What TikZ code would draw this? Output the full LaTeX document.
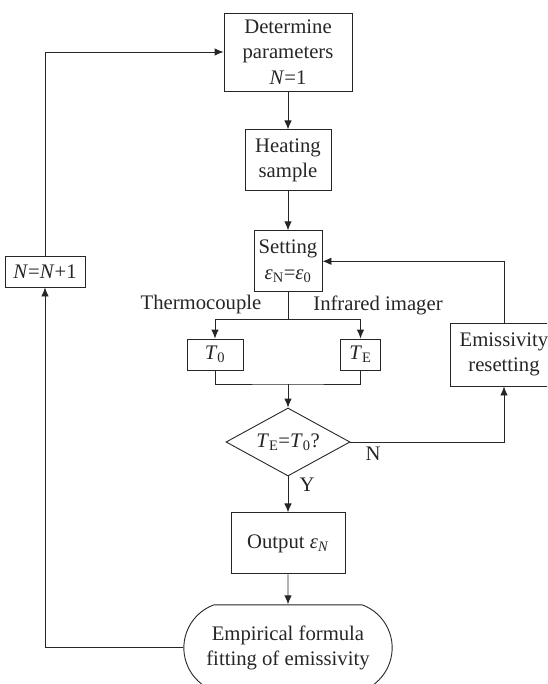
\documentclass[tikz,border=0pt]{standalone}
\usepackage{fontspec}
\setmainfont{Liberation Serif}
\usepackage{xcolor}
\usepackage{tikz}
\usetikzlibrary{shapes.geometric,shapes.misc,arrows.meta,positioning}

\begin{document}
\begin{tikzpicture}[x=1pt, y=-1pt, node distance=36pt,
    every node/.style={font=\fontsize{20.7}{25.5}\selectfont, text=black!85},
    box/.style={draw=black!85, line width=0.9pt, rectangle, align=center, inner sep=2pt},
    check/.style={draw=black!85, line width=0.9pt, diamond, aspect=1.8, inner sep=0pt, minimum width=124pt, minimum height=68pt},
    fitbox/.style={draw=black!85, line width=0.9pt, rounded rectangle, rounded rectangle arc length=140, align=center, minimum width=215pt, minimum height=86pt},
    link/.style={draw=black!85, line width=0.9pt},
    >={Latex[length=9pt,width=7.5pt]}]
    \useasboundingbox (0,0) rectangle (547,684);
    \clip (0,0) rectangle (547,684);

    % Nodes
    \node[box, minimum width=128pt, minimum height=78pt] (param) at (288,52) {Determine\\parameters\\\textit{N}=1};
    \node[box, minimum width=86pt, minimum height=61pt, below=38pt of param] (heat) {Heating\\sample};
    \node[box, minimum width=68pt, minimum height=61pt, below=39pt of heat] (set) {Setting\\\textit{ε}\textsubscript{N}=\textit{ε}\textsubscript{0}};
    \node[box, minimum width=56pt, minimum height=31pt] (tzero) at (215,354.5) {\textit{T}\textsubscript{0}};
    \node[box, minimum width=40pt, minimum height=31pt] (tinfra) at (360.5,354.5) {\textit{T}\textsubscript{E}};
    \node (thermo) at (201,305) {Thermocouple};
    \node (infra) at (378,305) {Infrared imager};
    \node[check] (dec) at (288,442) {\textit{T}\textsubscript{E}=\textit{T}\textsubscript{0}?};
    \node[box, minimum width=108pt, minimum height=63pt] (reset) at (504,354.5) {Emissivity\\resetting};
    \node (no) at (373,454) {N};
    \node (yes) at (307,485) {Y};
    \node[box, minimum width=114pt, minimum height=61pt, below=36pt of dec] (out) {Output \textit{ε}\textsubscript{\textit{N}}};
    \node[fitbox, below=30pt of out] (emp) {Empirical formula\\fitting of emissivity};
    \node[box, minimum width=80pt, minimum height=31pt] (next) at (45,271.5) {\textit{N}=\textit{N}+1};
    \coordinate (join) at (288,384);

    % Arrows
    \draw[link, ->] (param) -- (heat);
    \draw[link, ->] (heat) -- (set);
    \draw[link] (set.south) -- ++(0,27) coordinate (fork);
    \draw[link, ->] (fork) -| (tzero);
    \draw[link, ->] (fork) -| (tinfra);
    \draw[link] (tzero.south) |- (join) -| (tinfra.south);
    \draw[link, ->] (join) -- (dec);
    \draw[link, ->] (dec.east) -| (reset.south);
    \draw[link, ->] (reset.north) |- (set.east);
    \draw[link, ->] (dec) -- (out);
    \draw[link, ->] (out) -- (emp);
    \draw[link, ->] (emp.west) -| (next.south);
    \draw[link, ->] (next.north) |- (param.west);
\end{tikzpicture}
\end{document}
